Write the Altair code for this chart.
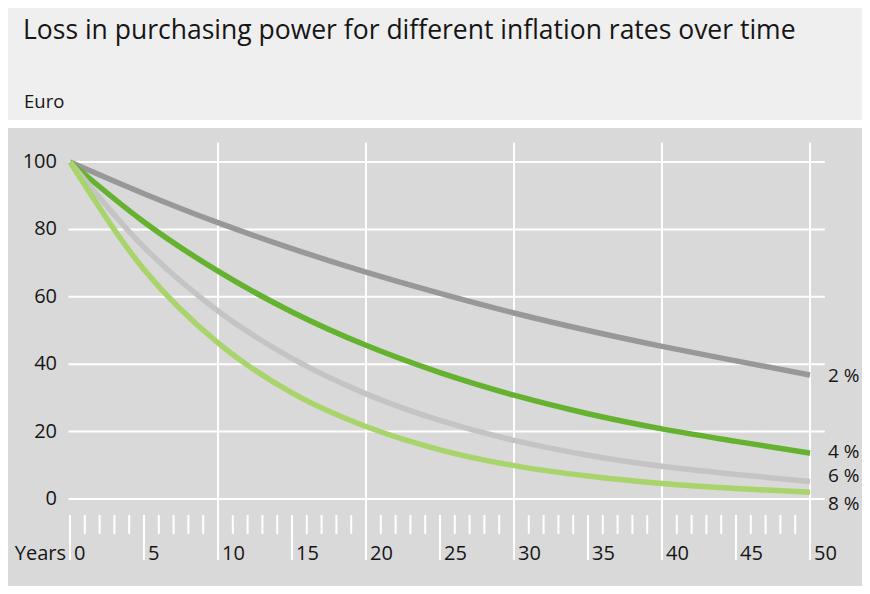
import altair as alt
import pandas as pd

# ---- data ----
years = [0, 5, 10, 15, 20, 25, 30, 35, 40, 45, 50]
power_2 = [100, 90.6, 82.0, 74.3, 67.3, 61.0, 55.2, 50.0, 45.3, 41.0, 36.8]
power_4 = [100, 82.2, 67.6, 55.5, 45.6, 37.5, 30.8, 25.3, 20.8, 17.1, 13.6]
power_6 = [100, 74.7, 55.8, 41.7, 31.2, 23.3, 17.4, 13.0, 9.7, 7.3, 5.2]
power_8 = [100, 68.1, 46.3, 31.5, 21.5, 14.6, 9.9, 6.8, 4.6, 3.1, 2.0]

series_names = ["2 %", "4 %", "6 %", "8 %"]
series_colors = ["#989898", "#64b22f", "#c4c4c4", "#a9d46b"]
label_values = [36.5, 13.8, 6.8, -1.4]

y_ticks = [0, 20, 40, 60, 80, 100]
x_major = [0, 5, 10, 15, 20, 25, 30, 35, 40, 45, 50]
x_minor = [v for v in range(1, 50) if v % 5 != 0]
x_grid = [10, 20, 30, 40, 50]

title_text = "Loss in purchasing power for different inflation rates over time"
unit_text = "Euro"
x_title = "Years"

# ---- tables ----
rows = []
for name, vals in zip(series_names, [power_2, power_4, power_6, power_8]):
    for yr, v in zip(years, vals):
        rows.append({"year": yr, "value": v, "series": name})
lines_df = pd.DataFrame(rows)

labels_df = pd.DataFrame({"series": series_names, "value": label_values, "year": [50] * 4})
hgrid_df = pd.DataFrame({"y": y_ticks, "x0": [-0.1] * len(y_ticks), "x1": [51.0] * len(y_ticks)})
vgrid_df = pd.DataFrame({"x": x_grid, "y0": [105.8] * len(x_grid), "y1": [-18.1] * len(x_grid)})
major_df = pd.DataFrame({"x": x_major, "y0": [-4.75] * len(x_major), "y1": [-18.1] * len(x_major)})
minor_df = pd.DataFrame({"x": x_minor, "y0": [-4.75] * len(x_minor), "y1": [-10.4] * len(x_minor)})
ylab_df = pd.DataFrame({"y": y_ticks, "x": [0] * len(y_ticks), "t": [str(v) for v in y_ticks]})
xlab_df = pd.DataFrame({"x": x_major, "y": [-16.4] * len(x_major), "t": [str(v) for v in x_major]})
xtitle_df = pd.DataFrame({"x": [0], "y": [-16.4], "t": [x_title]})

FONT = "Open Sans"
TXT = "#161616"

xs = alt.Scale(domain=[0, 50], range=[62, 802], nice=False, zero=False)
ys = alt.Scale(domain=[0, 100], range=[371, 34], nice=False, zero=False)

hgrid = alt.Chart(hgrid_df).mark_rule(color="white", strokeWidth=2).encode(
    x=alt.X("x0:Q", scale=xs, axis=None), x2="x1:Q",
    y=alt.Y("y:Q", scale=ys, axis=None))
vgrid = alt.Chart(vgrid_df).mark_rule(color="white", strokeWidth=2).encode(
    x=alt.X("x:Q", scale=xs, axis=None),
    y=alt.Y("y0:Q", scale=ys, axis=None), y2="y1:Q")
major = alt.Chart(major_df).mark_rule(color="white", strokeWidth=2).encode(
    x=alt.X("x:Q", scale=xs, axis=None),
    y=alt.Y("y0:Q", scale=ys, axis=None), y2="y1:Q")
minor = alt.Chart(minor_df).mark_rule(color="white", strokeWidth=2).encode(
    x=alt.X("x:Q", scale=xs, axis=None),
    y=alt.Y("y0:Q", scale=ys, axis=None), y2="y1:Q")

lines = alt.Chart(lines_df).mark_line(strokeWidth=5.5, interpolate="monotone", strokeCap="butt").encode(
    x=alt.X("year:Q", scale=xs, axis=None),
    y=alt.Y("value:Q", scale=ys, axis=None),
    color=alt.Color("series:N", scale=alt.Scale(domain=series_names, range=series_colors), legend=None),
    order=alt.Order("year:Q"))

ylabels = alt.Chart(ylab_df).mark_text(align="right", baseline="middle", dx=-13, font=FONT, fontSize=20, color=TXT).encode(
    x=alt.X("x:Q", scale=xs, axis=None), y=alt.Y("y:Q", scale=ys, axis=None), text="t:N")
xlabels = alt.Chart(xlab_df).mark_text(align="left", baseline="middle", dx=4, font=FONT, fontSize=20, color=TXT).encode(
    x=alt.X("x:Q", scale=xs, axis=None), y=alt.Y("y:Q", scale=ys, axis=None), text="t:N")
xtitle = alt.Chart(xtitle_df).mark_text(align="right", baseline="middle", dx=-4, font=FONT, fontSize=20, color=TXT).encode(
    x=alt.X("x:Q", scale=xs, axis=None), y=alt.Y("y:Q", scale=ys, axis=None), text="t:N")
slabels = alt.Chart(labels_df).mark_text(align="left", baseline="middle", dx=18, font=FONT, fontSize=19, color=TXT).encode(
    x=alt.X("year:Q", scale=xs, axis=None), y=alt.Y("value:Q", scale=ys, axis=None), text="series:N")

main = alt.layer(hgrid, vgrid, major, minor, lines, ylabels, xlabels, xtitle, slabels).properties(
    width=854, height=458,
    view=alt.ViewBackground(fill="#d9d9d9", strokeWidth=0))

head_df = pd.DataFrame({"t": [title_text], "u": [unit_text]})
head_title = alt.Chart(head_df).mark_text(align="left", baseline="middle", font=FONT, fontSize=26.5, color=TXT).encode(
    x=alt.value(15), y=alt.value(23), text="t:N")
head_unit = alt.Chart(head_df).mark_text(align="left", baseline="middle", font=FONT, fontSize=18.5, color=TXT).encode(
    x=alt.value(16), y=alt.value(94), text="u:N")
header = alt.layer(head_title, head_unit).properties(
    width=854, height=112,
    view=alt.ViewBackground(fill="#efefef", strokeWidth=0))

chart = alt.vconcat(header, main, spacing=8).properties(
    padding=0, background="white")

chart.save("out.html", embed_options={"renderer": "svg", "actions": False})
